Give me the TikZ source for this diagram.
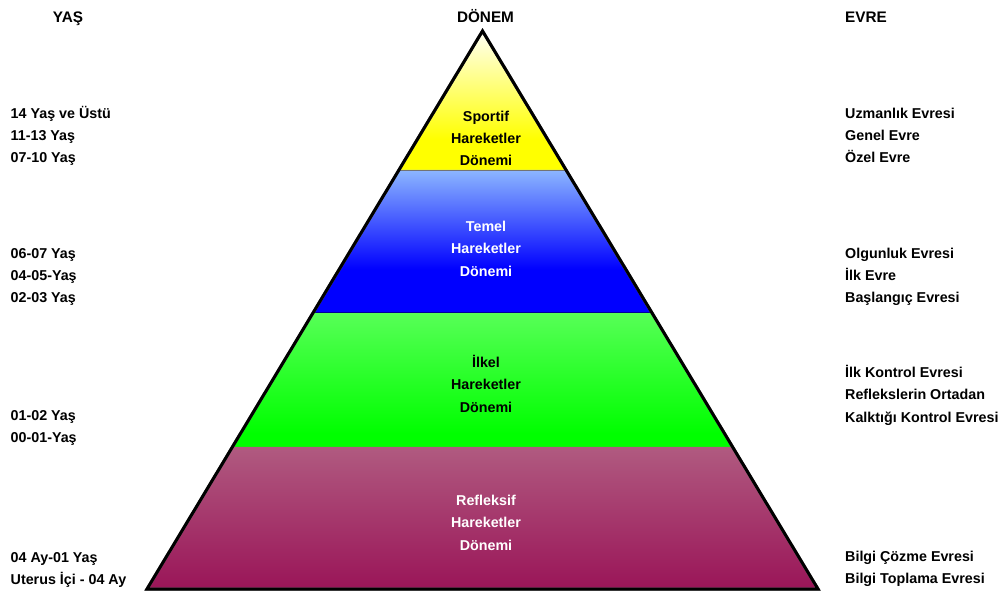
\documentclass[tikz,border=0pt]{standalone}
\usepackage{fontspec}
\setmainfont{Liberation Sans}
\usetikzlibrary{calc}
\definecolor{Ytop}{HTML}{FFFFF4}
\definecolor{Ybot}{HTML}{FFFF00}
\definecolor{Btop}{HTML}{8CB6FF}
\definecolor{Bbot}{HTML}{0000FF}
\definecolor{Gtop}{HTML}{58FF58}
\definecolor{Gbot}{HTML}{00FF00}
\definecolor{Mtop}{HTML}{B05A80}
\definecolor{Mbot}{HTML}{9A1558}
\pgfdeclareverticalshading{yband}{100bp}{color(0bp)=(Ybot); color(25bp)=(Ybot); color(36bp)=(Ybot); color(75bp)=(Ytop); color(100bp)=(Ytop)}
\pgfdeclareverticalshading{bband}{100bp}{color(0bp)=(Bbot); color(25bp)=(Bbot); color(40bp)=(Bbot); color(75bp)=(Btop); color(100bp)=(Btop)}
\pgfdeclareverticalshading{gband}{100bp}{color(0bp)=(Gbot); color(25bp)=(Gbot); color(30bp)=(Gbot); color(75bp)=(Gtop); color(100bp)=(Gtop)}
\pgfdeclareverticalshading{mband}{100bp}{color(0bp)=(Mbot); color(25bp)=(Mbot); color(75bp)=(Mtop); color(100bp)=(Mtop)}
\tikzset{
  lbl/.style={font=\bfseries\fontsize{14.3bp}{22bp}\selectfont, inner sep=0pt, anchor=base west, text=black},
  mid/.style={lbl, anchor=base},
  wmid/.style={mid, text=white},
  head/.style={font=\bfseries\fontsize{15.3bp}{22bp}\selectfont, inner sep=0pt, text=black},
  sep/.style={draw=black!55, line width=0.8bp},
}
\begin{document}
\begin{tikzpicture}[x=1bp,y=-1bp]
\useasboundingbox (0,0) rectangle (1006,594);
\fill[white] (0,0) rectangle (1006,594);
% geometry
\coordinate (A) at (482.5,31);
\coordinate (BL) at (147,589);
\coordinate (BR) at (818,589);
\coordinate (L1) at ($(A)!0.2491!(BL)$);
\coordinate (R1) at ($(A)!0.2491!(BR)$);
\coordinate (L2) at ($(A)!0.5036!(BL)$);
\coordinate (R2) at ($(A)!0.5036!(BR)$);
\coordinate (L3) at ($(A)!0.7455!(BL)$);
\coordinate (R3) at ($(A)!0.7455!(BR)$);
% bands
\shade[shading=yband] (A) -- (R1) -- (L1) -- cycle;
\shade[shading=bband] (L1) -- (R1) -- (R2) -- (L2) -- cycle;
\shade[shading=gband] (L2) -- (R2) -- (R3) -- (L3) -- cycle;
\shade[shading=mband] (L3) -- (R3) -- (BR) -- (BL) -- cycle;
\draw[sep] (L1) -- (R1);
\draw[sep, draw=blue!60!black] (L2) -- (R2);
\draw[sep, draw=Mtop] (L3) -- (R3);
% outline with shadow
\draw[black!55, line width=3bp, line join=miter, shift={(1.5,1.8)}] (A) -- (BR) -- (BL) -- cycle;
\draw[black, line width=3bp, line join=miter] (A) -- (BR) -- (BL) -- cycle;
% headers
\node[head, anchor=base] (hyas) at (68,23) {YAŞ};
\node[head, anchor=base] (hdonem) at (485.5,23) {DÖNEM};
\node[head, anchor=base west] (hevre) at (845,23) {EVRE};
% pyramid labels
\node[mid] (s1) at (486,121.5) {Sportif};
\node[mid] (s2) at (486,143.5) {Hareketler};
\node[mid] (s3) at (486,165.5) {Dönemi};
\node[wmid] (t1) at (486,232) {Temel};
\node[wmid] (t2) at (486,254) {Hareketler};
\node[wmid] (t3) at (486,276.5) {Dönemi};
\node[mid] (i1) at (486,367) {İlkel};
\node[mid] (i2) at (486,389.5) {Hareketler};
\node[mid] (i3) at (486,412) {Dönemi};
\node[wmid] (r1) at (486,505.5) {Refleksif};
\node[wmid] (r2) at (486,527.5) {Hareketler};
\node[wmid] (r3) at (486,550.5) {Dönemi};
% left column
\node[lbl] (y1) at (10.5,119) {14 Yaş ve Üstü};
\node[lbl] (y2) at (10.5,141) {11-13 Yaş};
\node[lbl] (y3) at (10.5,163) {07-10 Yaş};
\node[lbl] (y4) at (10.5,258.5) {06-07 Yaş};
\node[lbl] (y5) at (10.5,280.5) {04-05-Yaş};
\node[lbl] (y6) at (10.5,302.5) {02-03 Yaş};
\node[lbl] (y7) at (10.5,420.5) {01-02 Yaş};
\node[lbl] (y8) at (10.5,442.5) {00-01-Yaş};
\node[lbl] (y9) at (10.5,562.5) {04 Ay-01 Yaş};
\node[lbl] (y10) at (10.5,584) {Uterus İçi - 04 Ay};
% right column
\node[lbl] (e1) at (845,119) {Uzmanlık Evresi};
\node[lbl] (e2) at (845,141) {Genel Evre};
\node[lbl] (e3) at (845,163) {Özel Evre};
\node[lbl] (e4) at (845,258.5) {Olgunluk Evresi};
\node[lbl] (e5) at (845,280.5) {İlk Evre};
\node[lbl] (e6) at (845,302.5) {Başlangıç Evresi};
\node[lbl] (e7) at (845,377) {İlk Kontrol Evresi};
\node[lbl] (e8) at (845,399.5) {Reflekslerin Ortadan};
\node[lbl] (e9) at (845,422) {Kalktığı Kontrol Evresi};
\node[lbl] (e10) at (845,561) {Bilgi Çözme Evresi};
\node[lbl] (e11) at (845,583.5) {Bilgi Toplama Evresi};
\end{tikzpicture}
\end{document}
